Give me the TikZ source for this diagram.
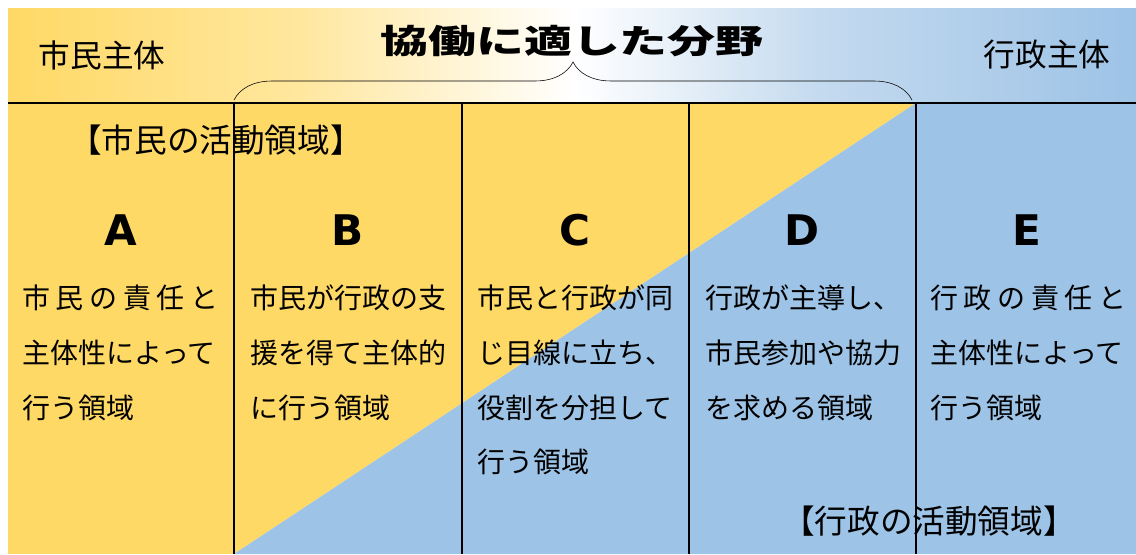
\documentclass[tikz,border=0pt]{standalone}
\usepackage{fontspec}
\setmainfont{Noto Sans CJK JP}
\newfontfamily\titlefont[FakeStretch=1.45]{Noto Sans CJK JP}
\newfontfamily\letterfont{DejaVu Sans}
\usetikzlibrary{decorations.pathreplacing}

\definecolor{civic}{HTML}{FFD966}
\definecolor{civiclight}{HTML}{FFE79E}
\definecolor{admin}{HTML}{9DC3E6}
\definecolor{adminlight}{HTML}{C4DAEF}

% spread a line of characters over a fixed width
\newcommand{\spreadline}[2]{\makebox[#1][s]{#2}}

\tikzset{
  line/.style={font=\fontsize{19.9}{24}\selectfont, anchor=west, inner sep=0pt,
    text height=17.5pt, text depth=2.4pt},
  area/.style={font=\fontsize{23.2}{28}\selectfont, inner sep=0pt},
  letter/.style={font=\letterfont\bfseries\fontsize{30}{36}\selectfont, inner sep=0pt},
  side/.style={font=\fontsize{22.5}{26}\selectfont, inner sep=0pt},
  grid/.style={line width=1.4pt}
}

\begin{document}
\begin{tikzpicture}[x=0.025cm, y=-0.025cm]
    \useasboundingbox (0,0) rectangle (1136,554);

    % header band
    \shade[left color=civic, right color=civiclight] (8,8) rectangle (300,103);
    \shade[left color=civiclight, right color=white] (300,8) rectangle (575,103);
    \shade[left color=white, right color=adminlight] (575,8) rectangle (820,103);
    \shade[left color=adminlight, right color=admin] (820,8) rectangle (1136,103);

    % areas
    \fill[civic] (8,103) rectangle (234,554);
    \fill[civic] (234,103) -- (916,103) -- (234,554) -- cycle;
    \fill[admin] (916,103) -- (1136,103) -- (1136,554) -- (234,554) -- cycle;

    % header texts
    \node[side] (civ) at (102,55) {市民主体};
    \node[side] (adm) at (1047,55) {行政主体};
    \node[font=\titlefont\bfseries\fontsize{23.5}{28}\selectfont, inner sep=0pt] (title) at (572,41) {協働に適した分野};

    \coordinate (brL) at (234,100);
    \coordinate (brR) at (912,100);
    \draw[decorate, decoration={brace, amplitude=0.95cm}] (brL) -- (brR);

    % activity labels
    \node[area] (civarea) at (216,140) {【市民の活動領域】};
    \node[area] (admarea) at (929,521) {【行政の活動領域】};

    % column letters
    \node[letter] (A) at (121,230) {A};
    \node[letter] (B) at (348,230) {B};
    \node[letter] (C) at (575,230) {C};
    \node[letter] (D) at (802,230) {D};
    \node[letter] (E) at (1027,230) {E};

    % column texts
    \node[line] (a1) at (22,298) {\spreadline{4.9cm}{市\hfill 民\hfill の\hfill 責\hfill 任\hfill と}};
    \node[line] (a2) at (22,353) {主体性によって};
    \node[line] (a3) at (22,408) {行う領域};

    \node[line] (b1) at (250,298) {市民が行政の支};
    \node[line] (b2) at (250,353) {援を得て主体的};
    \node[line] (b3) at (250,408) {に行う領域};

    \node[line] (c1) at (477,298) {市民と行政が同};
    \node[line] (c2) at (477,353) {じ目線に立ち、};
    \node[line] (c3) at (477,408) {役割を分担して};
    \node[line] (c4) at (477,462) {行う領域};

    \node[line] (d1) at (705,298) {行政が主導し、};
    \node[line] (d2) at (705,353) {市民参加や協力};
    \node[line] (d3) at (705,408) {を求める領域};

    \node[line] (e1) at (930,298) {\spreadline{4.9cm}{行\hfill 政\hfill の\hfill 責\hfill 任\hfill と}};
    \node[line] (e2) at (930,353) {主体性によって};
    \node[line] (e3) at (930,408) {行う領域};

    % grid lines
    \draw[grid] (8,103) -- (1136,103);
    \draw[grid] (234,103) -- (234,554);
    \draw[grid] (462,103) -- (462,554);
    \draw[grid] (689,103) -- (689,554);
    \draw[grid] (916,103) -- (916,554);
\end{tikzpicture}
\end{document}
